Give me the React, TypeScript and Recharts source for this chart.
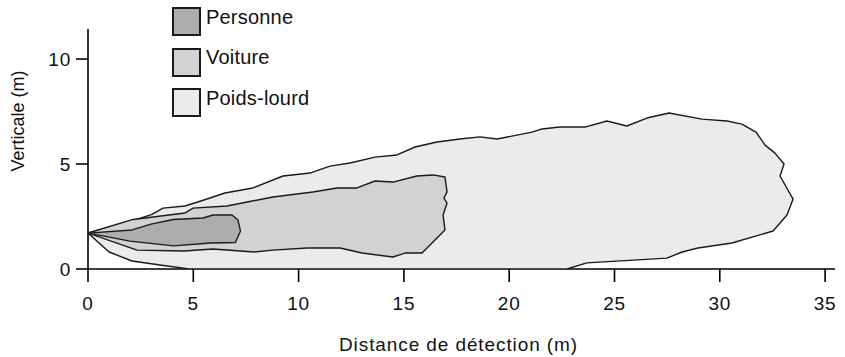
import { ScatterChart, Scatter, XAxis, YAxis, Legend } from "recharts";

// shapes of the detection zones, [distance (m), vertical (m)], traced clockwise from the sensor
const personne: [number, number][] = [
  [0, 1.71], [2.09, 1.86], [2.99, 2.14], [4.04, 2.36], [5.46, 2.43], [5.94, 2.57], [6.84, 2.57],
  [7.12, 2.33], [7.24, 1.81], [7.0, 1.26], [5.82, 1.24], [4.06, 1.1], [1.99, 1.33]
];

const voiture: [number, number][] = [
  [0, 1.71], [2.14, 2.36], [4.61, 2.67], [4.99, 2.9], [6.6, 3.0], [8.78, 3.43], [10.68, 3.67],
  [11.82, 3.86], [12.77, 3.86], [13.63, 4.19], [14.48, 4.14], [15.62, 4.43], [16.38, 4.48],
  [16.95, 4.38], [17.05, 3.67], [16.9, 3.38], [17.05, 3.14], [16.86, 2.57], [16.95, 1.86],
  [15.86, 0.76], [15.05, 0.76], [14.48, 0.57], [13.01, 0.76], [11.97, 1.0], [10.4, 1.0],
  [8.78, 0.9], [7.88, 0.81], [5.94, 0.95], [4.56, 0.86], [2.33, 0.9]
];

const poidsLourd: [number, number][] = [
  [0, 1.71], [2.2, 2.33], [3.04, 2.6], [3.56, 2.9], [4.6, 3.0], [5.4, 3.25], [6.5, 3.62],
  [7.83, 3.86], [9.26, 4.43], [10.54, 4.57], [11.49, 4.9], [12.44, 5.05], [13.63, 5.33],
  [14.67, 5.43], [15.53, 5.81], [16.57, 6.05], [17.66, 6.19], [18.61, 6.29], [19.42, 6.19],
  [21.08, 6.52], [21.56, 6.67], [22.41, 6.76], [23.6, 6.76], [24.64, 7.05], [25.59, 6.81],
  [26.54, 7.19], [27.59, 7.43], [29.15, 7.14], [30.34, 7.05], [31.05, 6.9], [31.72, 6.52],
  [32.15, 5.9], [32.62, 5.52], [33.05, 5.0], [32.86, 4.43], [33.48, 3.33], [33.19, 2.57],
  [32.53, 1.81], [30.58, 1.24], [28.96, 1.0], [28.21, 0.81], [27.49, 0.52], [23.69, 0.29],
  [22.74, 0], [4.8, 0], [3.42, 0.19], [2.09, 0.38], [1.0, 0.81]
];

const seriesNames = ["Personne", "Voiture", "Poids-lourd"];
const seriesFills = ["#adadad", "#d2d2d2", "#ebebeb"];
const seriesShapes = [personne, voiture, poidsLourd];

const xTicks = [0, 5, 10, 15, 20, 25, 30, 35];
const yTicks = [0, 5, 10];

const FONT = "'Liberation Sans', Arial, Helvetica, sans-serif";
const INK = "#1a1a1a";

const toPoints = (shape: [number, number][]) => shape.map(([x, y]) => ({ x, y }));

// closed outline through the scaled points
const makeOutline = (fill: string) => (props: any) => {
  const pts: { x: number; y: number }[] = props.points || [];
  if (!pts.length) return null;
  const d = pts.map((p, i) => `${i ? "L" : "M"}${p.x},${p.y}`).join(" ") + " Z";
  return <path d={d} fill={fill} stroke={INK} strokeWidth={1.4} strokeLinejoin="round" />;
};

const noDot = () => <g />;

const renderLegend = (props: any) => {
  const payload: any[] = props.payload || [];
  const items = seriesNames.map((name, i) => {
    const entry = payload.find((p) => p.value === name);
    return { name, color: (entry && entry.color) || seriesFills[i] };
  });
  return (
    <div style={{ display: "flex", flexDirection: "column", gap: 11.5, fontFamily: FONT }}>
      {items.map(({ name, color }) => (
        <div key={name} style={{ display: "flex", alignItems: "center", height: 29 }}>
          <span
            style={{
              width: 29,
              height: 29,
              boxSizing: "border-box",
              border: `2px solid ${INK}`,
              background: color,
              display: "inline-block"
            }}
          />
          <span style={{ marginLeft: 5, marginTop: -9, fontSize: 20, color: "#111", letterSpacing: 0.2 }}>
            {name}
          </span>
        </div>
      ))}
    </div>
  );
};

const App = () => {
  const tickStyle = { fill: "#111", fontSize: 19, fontFamily: FONT, letterSpacing: 0.8 };
  return (
    <div style={{ position: "absolute", left: 0, top: 0, width: 845, height: 357, background: "#fff" }}>
      <ScatterChart width={845} height={357} margin={{ top: 29, right: 10, bottom: 28, left: 28 }}>
        <XAxis
          type="number"
          dataKey="x"
          domain={[0, 35.47]}
          ticks={xTicks}
          allowDataOverflow
          height={60}
          stroke="#000"
          strokeWidth={1.6}
          tickSize={13}
          tickMargin={15}
          tick={tickStyle}
          label={{
            content: (p: any) => {
              const vb = p.viewBox || { x: 0, width: 0 };
              return (
                <text
                  x={vb.x + vb.width / 2 - 3}
                  y={344}
                  textAnchor="middle"
                  dominantBaseline="central"
                  fontFamily={FONT}
                  fontSize={19}
                  letterSpacing={0.9}
                  fill="#111"
                >
                  Distance de détection (m)
                </text>
              );
            }
          }}
        />
        <YAxis
          type="number"
          dataKey="y"
          domain={[0, 11.43]}
          ticks={yTicks}
          allowDataOverflow
          width={60}
          stroke="#000"
          strokeWidth={1.6}
          tickSize={12}
          tickMargin={5}
          tick={tickStyle}
          label={{
            content: (p: any) => {
              const vb = p.viewBox || { x: 0, y: 0, height: 0 };
              const cx = vb.x - 10;
              const cy = vb.y + vb.height / 2 - 28;
              return (
                <text
                  transform={`translate(${cx},${cy}) rotate(-90)`}
                  textAnchor="middle"
                  dominantBaseline="central"
                  fontFamily={FONT}
                  fontSize={18}
                  fill="#111"
                >
                  Verticale (m)
                </text>
              );
            }
          }}
        />
        <Legend
          layout="vertical"
          align="center"
          verticalAlign="middle"
          wrapperStyle={{ left: 172, top: 7, width: "auto" }}
          content={renderLegend}
        />
        {[2, 1, 0].map((i) => (
          <Scatter
            key={seriesNames[i]}
            name={seriesNames[i]}
            data={toPoints(seriesShapes[i])}
            fill={seriesFills[i]}
            line={makeOutline(seriesFills[i])}
            shape={noDot}
            isAnimationActive={false}
          />
        ))}
      </ScatterChart>
    </div>
  );
};

export default App;
